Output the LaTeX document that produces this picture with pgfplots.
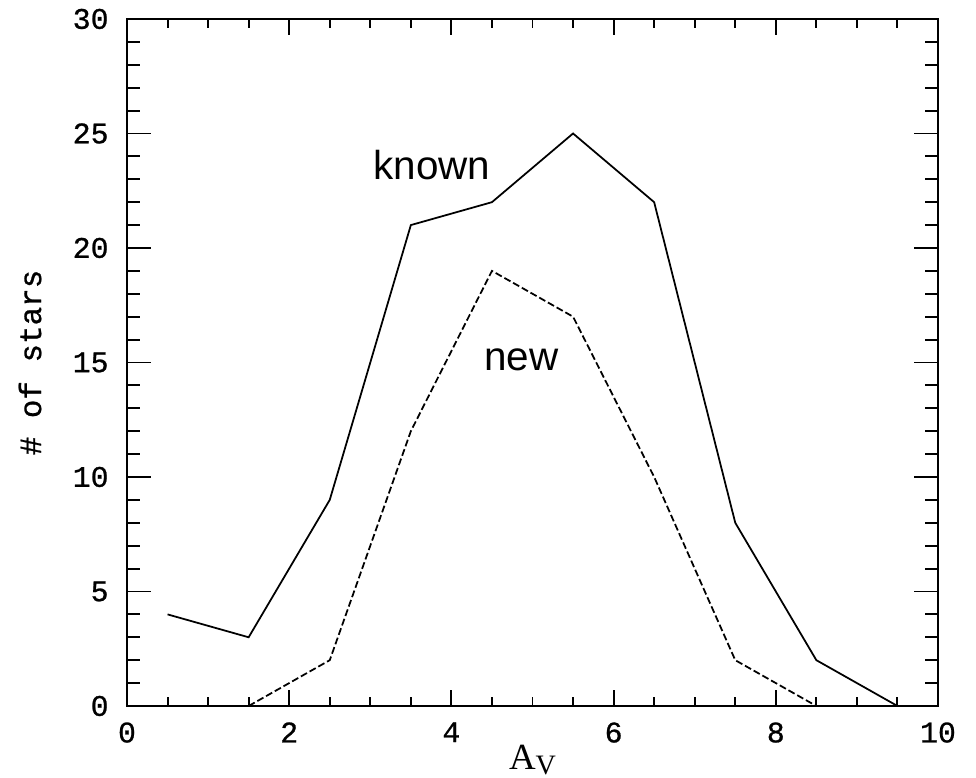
\documentclass[border=0pt]{standalone}
\usepackage{fontspec}
\setmainfont[FakeBold=0.8,AutoFakeBold=false]{Liberation Mono}
\newfontfamily\arialfont{Liberation Sans}
\newfontfamily\seriffont{Liberation Serif}
\usepackage{pgfplots}
\pgfplotsset{compat=1.18}
\begin{document}
\begin{tikzpicture}
\begin{axis}[
  name=ax,
  scale only axis,
  width=81.1mm, height=68.7mm,
  xmin=0, xmax=10, ymin=0, ymax=30,
  xtick={0,2,...,10}, ytick={0,5,...,30},
  minor x tick num=3, minor y tick num=4,
  tick align=inside,
  ticks=both,
  xtick pos=both, ytick pos=both,
  major tick length=2.4mm, minor tick length=1.3mm,
  xtick style={/pgfplots/major tick length=1.6mm,/pgfplots/minor tick length=0.9mm},
  every tick/.style={black, line width=0.55pt},
  axis line style={line width=0.6pt},
  /pgf/number format/assume math mode=true,
  tick label style={font=\fontsize{8.5}{10}\selectfont},
  xticklabel style={yshift=-0.4mm},
  yticklabel style={xshift=-0.6mm},
  every axis y label/.style={at={(axis description cs:-0.1196,0.5)}, rotate=90, anchor=center, font=\fontsize{8.8}{10}\selectfont},
  every axis x label/.style={at={(axis description cs:0.5,-0.093)}, anchor=base, font=\fontsize{10.5}{12}\selectfont},
  ylabel={\# of stars},
  xlabel={\seriffont A\raisebox{-0.3ex}{\fontsize{8}{9}\selectfont V}},
]
\addplot[black, line width=0.5pt] coordinates {
  (0.5,4) (1.5,3) (2.5,9) (3.5,21) (4.5,22) (5.5,25) (6.5,22) (7.5,8) (8.5,2) (9.5,0)
};
\addplot[black, line width=0.5pt, dash pattern=on 0.7mm off 0.3mm] coordinates {
  (1.5,0) (2.5,2) (3.5,12) (4.5,19) (5.5,17) (6.5,10) (7.5,2) (8.5,0)
};
\node[anchor=base, font=\arialfont\fontsize{11.5}{13}\selectfont, inner sep=0pt] at (axis cs:3.76,23.0) {known};
\node[anchor=base, font=\arialfont\fontsize{11.5}{13}\selectfont, inner sep=0pt] at (axis cs:4.86,14.67) {new};
\end{axis}
\pgfresetboundingbox
\path ([shift={(-12.7mm,-7.2mm)}]ax.south west) rectangle ([shift={(3.8mm,1.9mm)}]ax.north east);
\end{tikzpicture}
\end{document}
